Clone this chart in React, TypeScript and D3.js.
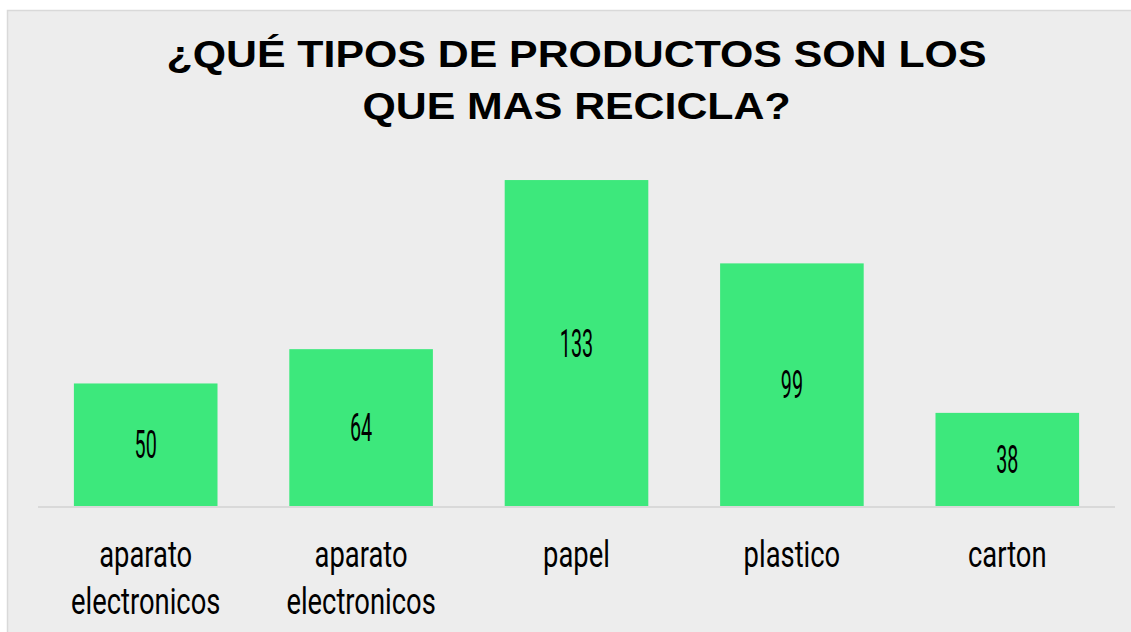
import React from "react";
import * as d3 from "d3";

const categories: string[][] = [
  ["aparato", "electronicos"],
  ["aparato", "electronicos"],
  ["papel"],
  ["plastico"],
  ["carton"],
];
const values: number[] = [50, 64, 133, 99, 38];
const titleLines: string[] = ["¿QUÉ TIPOS DE PRODUCTOS SON LOS", "QUE MAS RECICLA?"];

const W = 1131;
const H = 632;

export default function App() {
  const idx = values.map((_, i) => String(i));
  const x = d3.scaleBand<string>().domain(idx).range([38, 1115]).paddingInner(1 / 3).paddingOuter(1 / 6);
  const y = d3.scaleLinear().domain([0, 140]).range([506, 162.9]);
  const labelFont = "Roboto, 'DejaVu Sans', sans-serif";
  return (
    <svg width={W} height={H} style={{ position: "absolute", left: 0, top: 0 }}>
      <rect x={7.5} y={10.5} width={1130} height={630} fill="#ededed" stroke="#d9d9d9" strokeWidth={1.5} />
      {titleLines.map((t, i) => (
        <text
          key={i}
          transform={`translate(576.5,${67 + i * 52}) scale(1.19,1)`}
          textAnchor="middle"
          fontFamily="'Liberation Sans', Arial, sans-serif"
          fontWeight="bold"
          fontSize={36}
          fill="#000"
        >
          {t}
        </text>
      ))}
      {values.map((v, i) => {
        const bx = x(String(i))!;
        return (
          <rect key={i} x={bx} y={y(v)} width={x.bandwidth()} height={y(0) - y(v)} fill="#3de87c" />
        );
      })}
      <line x1={38} x2={1115} y1={507} y2={507} stroke="#d9d9d9" strokeWidth={2} />
      {values.map((v, i) => {
        const cx = x(String(i))! + x.bandwidth() / 2;
        const cy = (y(v) + y(0)) / 2 + 13.5;
        return (
          <text
            key={i}
            transform={`translate(${cx},${cy}) scale(0.52,1)`}
            textAnchor="middle"
            fontFamily={labelFont}
            fontSize={38}
            fill="#000"
          >
            {v}
          </text>
        );
      })}
      {categories.map((lines, i) => {
        const cx = x(String(i))! + x.bandwidth() / 2;
        return lines.map((l, j) => (
          <text
            key={i + "-" + j}
            transform={`translate(${cx},${567 + j * 46.5}) scale(0.74,1)`}
            textAnchor="middle"
            fontFamily={labelFont}
            fontSize={37}
            fill="#000"
          >
            {l}
          </text>
        ));
      })}
    </svg>
  );
}
